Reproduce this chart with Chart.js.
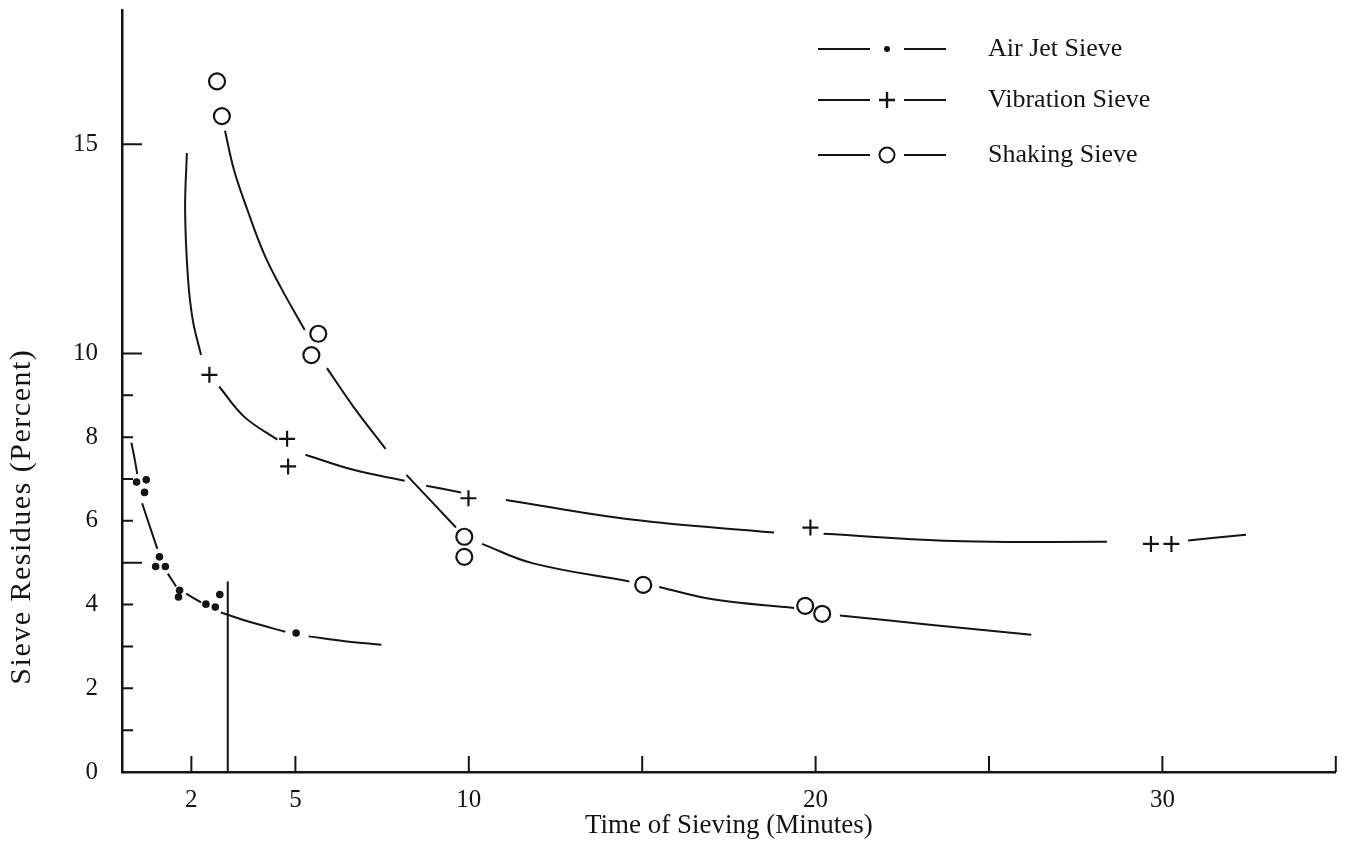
<!DOCTYPE html>
<html>
<head>
<meta charset="utf-8">
<title>Sieve Residues vs Time of Sieving</title>
<script src="https://cdn.jsdelivr.net/npm/chart.js@4.4.0/dist/chart.umd.min.js"></script>
<style>
  html, body { margin: 0; padding: 0; background: #fff; }
  #wrap { width: 1346px; height: 841px; position: relative; }
</style>
</head>
<body>
<div id="wrap"><canvas id="sieveChart"></canvas></div>
<script>
// values (x = minutes, y = percent)
const xTickLabels = [2, 5, 10, 20, 30];
const xTickMarks = [2, 5, 10, 15, 20, 25, 30, 35];
const yTickLabels = [0, 2, 4, 6, 8, 10, 15];
const yMinorTicks = [1, 2, 3, 4, 6, 7, 8, 9];
const yMajorTicks = [5, 10, 15];

const seriesNames = ['Air Jet Sieve', 'Vibration Sieve', 'Shaking Sieve'];
const yTitle = 'Sieve Residues (Percent)';

// measured points
const airX = [0.42, 0.70, 0.65, 1.08, 0.97, 1.25, 1.66, 1.63, 2.42, 2.69, 2.82, 5.02];
const airY = [6.93, 6.98, 6.68, 5.14, 4.91, 4.91, 4.34, 4.18, 4.01, 3.94, 4.24, 3.32];
const vibX = [2.52, 4.76, 4.79, 9.99, 19.85, 29.67, 30.26];
const vibY = [9.49, 7.96, 7.30, 6.54, 5.84, 5.45, 5.45];
const shakeX = [2.74, 2.88, 5.66, 5.46, 9.87, 9.87, 15.03, 19.70, 20.19];
const shakeY = [16.5, 15.67, 10.47, 9.96, 5.62, 5.14, 4.47, 3.97, 3.78];

// hand-drawn curves, null = gap left around a marker
const airCurveX = [0.27, 0.36, 0.44, 0.55, 0.58, 0.80, 1.02, 1.15, 1.32, 1.56, 1.70, 1.85, 2.28, 2.60, 2.85, 3.80, 4.71, 5.00, 5.38, 6.48, 7.48];
const airCurveY = [7.87, 7.50, 7.12, null, 6.42, 5.87, 5.33, null, 4.74, 4.43, null, 4.26, 4.05, null, 3.81, 3.56, 3.35, null, 3.24, 3.12, 3.04];
const vibCurveX = [1.87, 1.82, 1.90, 2.04, 2.28, 2.50, 2.80, 3.52, 4.48, 4.90, 5.29, 6.67, 8.15, 8.50, 8.77, 9.78, 10.50, 11.07, 14.69, 18.80, 19.50, 20.23, 24.25, 28.40, 29.90, 30.74, 32.41];
const vibCurveY = [14.79, 13.42, 11.83, 10.80, 9.96, null, 9.21, 8.49, 7.94, null, 7.58, 7.22, 6.96, null, 6.84, 6.68, null, 6.50, 6.03, 5.72, null, 5.69, 5.51, 5.50, null, 5.53, 5.67];
const shakeCurveX = [2.97, 3.23, 3.62, 4.09, 4.57, 5.27, 5.60, 5.91, 6.67, 7.60, 7.90, 8.20, 9.63, 10.00, 10.38, 11.83, 14.63, 15.00, 15.49, 17.08, 19.38, 20.00, 20.70, 23.29, 26.22];
const shakeCurveY = [15.32, 14.38, 13.42, 12.39, 11.59, 10.56, null, 9.65, 8.73, 7.72, null, 7.10, 5.84, null, 5.45, 4.99, 4.55, null, 4.42, 4.12, 3.92, null, 3.74, 3.52, 3.28];

// vertical rule near 3 minutes
const ruleX = [3.05, 3.05];
const ruleY = [0, 4.55];

const ink = '#141414';
const serif = "'Liberation Serif', 'Times New Roman', serif";

function toPoints(xs, ys) {
    return xs.map((x, i) => ({ x: x, y: ys[i] }));
}

function curve(xs, ys) {
    return {
        data: toPoints(xs, ys),
        borderColor: ink,
        borderWidth: 2,
        pointRadius: 0,
        tension: 0.4,
        spanGaps: false,
        fill: false
    };
}

function markers(xs, ys, style, radius, filled) {
    return {
        data: toPoints(xs, ys),
        showLine: false,
        pointStyle: style,
        pointRadius: radius,
        pointBorderWidth: 2.2,
        pointBorderColor: ink,
        pointBackgroundColor: filled ? ink : 'rgba(255,255,255,0)'
    };
}

const tickMarks = {
    id: 'tickMarks',
    afterDatasetsDraw(chart) {
        const { ctx, chartArea, scales: { x, y } } = chart;
        ctx.save();
        ctx.strokeStyle = ink;
        ctx.lineWidth = 2;
        ctx.beginPath();
        xTickMarks.forEach(v => {
            const px = x.getPixelForValue(v);
            ctx.moveTo(px, chartArea.bottom);
            ctx.lineTo(px, chartArea.bottom - 16);
        });
        yMinorTicks.forEach(v => {
            const py = y.getPixelForValue(v);
            ctx.moveTo(chartArea.left, py);
            ctx.lineTo(chartArea.left + 11, py);
        });
        yMajorTicks.forEach(v => {
            const py = y.getPixelForValue(v);
            ctx.moveTo(chartArea.left, py);
            ctx.lineTo(chartArea.left + 20, py);
        });
        ctx.stroke();

        // y title sits low and loosely set in the original
        ctx.translate(22, y.getPixelForValue(6.1));
        ctx.rotate(-Math.PI / 2);
        ctx.font = '30px ' + serif;
        ctx.fillStyle = ink;
        ctx.textAlign = 'center';
        ctx.textBaseline = 'middle';
        if ('letterSpacing' in ctx) ctx.letterSpacing = '1.5px';
        ctx.fillText(yTitle, 0, 0);
        ctx.restore();
    }
};

const keyBox = {
    id: 'keyBox',
    afterDraw(chart) {
        const ctx = chart.ctx;
        const rows = [49, 100, 155];
        ctx.save();
        ctx.strokeStyle = ink;
        ctx.fillStyle = ink;
        ctx.lineWidth = 2;
        rows.forEach((ry, i) => {
            ctx.beginPath();
            ctx.moveTo(818, ry); ctx.lineTo(870, ry);
            ctx.moveTo(904, ry); ctx.lineTo(946, ry);
            ctx.stroke();
            ctx.beginPath();
            if (i === 0) {
                ctx.arc(887, ry, 3, 0, Math.PI * 2);
                ctx.fill();
            } else if (i === 1) {
                ctx.lineWidth = 2.4;
                ctx.moveTo(879, ry); ctx.lineTo(895, ry);
                ctx.moveTo(887, ry - 8); ctx.lineTo(887, ry + 8);
                ctx.stroke();
                ctx.lineWidth = 2;
            } else {
                ctx.arc(887, ry, 7.5, 0, Math.PI * 2);
                ctx.stroke();
            }
            ctx.font = '26px ' + serif;
            ctx.textBaseline = 'middle';
            ctx.textAlign = 'left';
            ctx.fillText(seriesNames[i], 988, ry);
        });
        ctx.restore();
    }
};

new Chart(document.getElementById('sieveChart'), {
    type: 'line',
    data: {
        datasets: [
            curve(airCurveX, airCurveY),
            markers(airX, airY, 'circle', 2.7, true),
            curve(vibCurveX, vibCurveY),
            markers(vibX, vibY, 'cross', 8, false),
            curve(shakeCurveX, shakeCurveY),
            markers(shakeX, shakeY, 'circle', 8, false),
            Object.assign(curve(ruleX, ruleY), { tension: 0 })
        ]
    },
    options: {
        responsive: true,
        maintainAspectRatio: false,
        animation: false,
        layout: { padding: { top: 10, right: 4, bottom: 0, left: 0 } },
        plugins: {
            legend: { display: false },
            tooltip: { enabled: false }
        },
        scales: {
            x: {
                type: 'linear',
                min: 0,
                max: 35,
                grid: { display: false, drawTicks: false },
                border: { display: true, color: ink, width: 2.5 },
                afterBuildTicks: scale => { scale.ticks = xTickLabels.map(v => ({ value: v })); },
                afterFit: scale => {
                    scale.height = 69;
                    scale.paddingLeft = 0;
                    scale.paddingRight = 0;
                },
                ticks: {
                    autoSkip: false,
                    maxRotation: 0,
                    padding: 13,
                    color: ink,
                    font: { family: serif, size: 25 },
                    callback: v => String(v)
                },
                title: {
                    display: true,
                    text: 'Time of Sieving (Minutes)',
                    color: ink,
                    font: { family: serif, size: 27, lineHeight: 0.8 },
                    padding: { top: 0, bottom: 4 }
                }
            },
            y: {
                type: 'linear',
                min: 0,
                max: 18.2,
                grid: { display: false, drawTicks: false },
                border: { display: true, color: ink, width: 2.5 },
                afterBuildTicks: scale => { scale.ticks = yTickLabels.map(v => ({ value: v })); },
                afterFit: scale => {
                    scale.width = 122;
                    scale.paddingTop = 0;
                    scale.paddingBottom = 0;
                },
                ticks: {
                    autoSkip: false,
                    padding: 24,
                    color: ink,
                    font: { family: serif, size: 25 },
                    callback: v => String(v)
                }
            }
        }
    },
    plugins: [tickMarks, keyBox]
});
</script>
</body>
</html>
